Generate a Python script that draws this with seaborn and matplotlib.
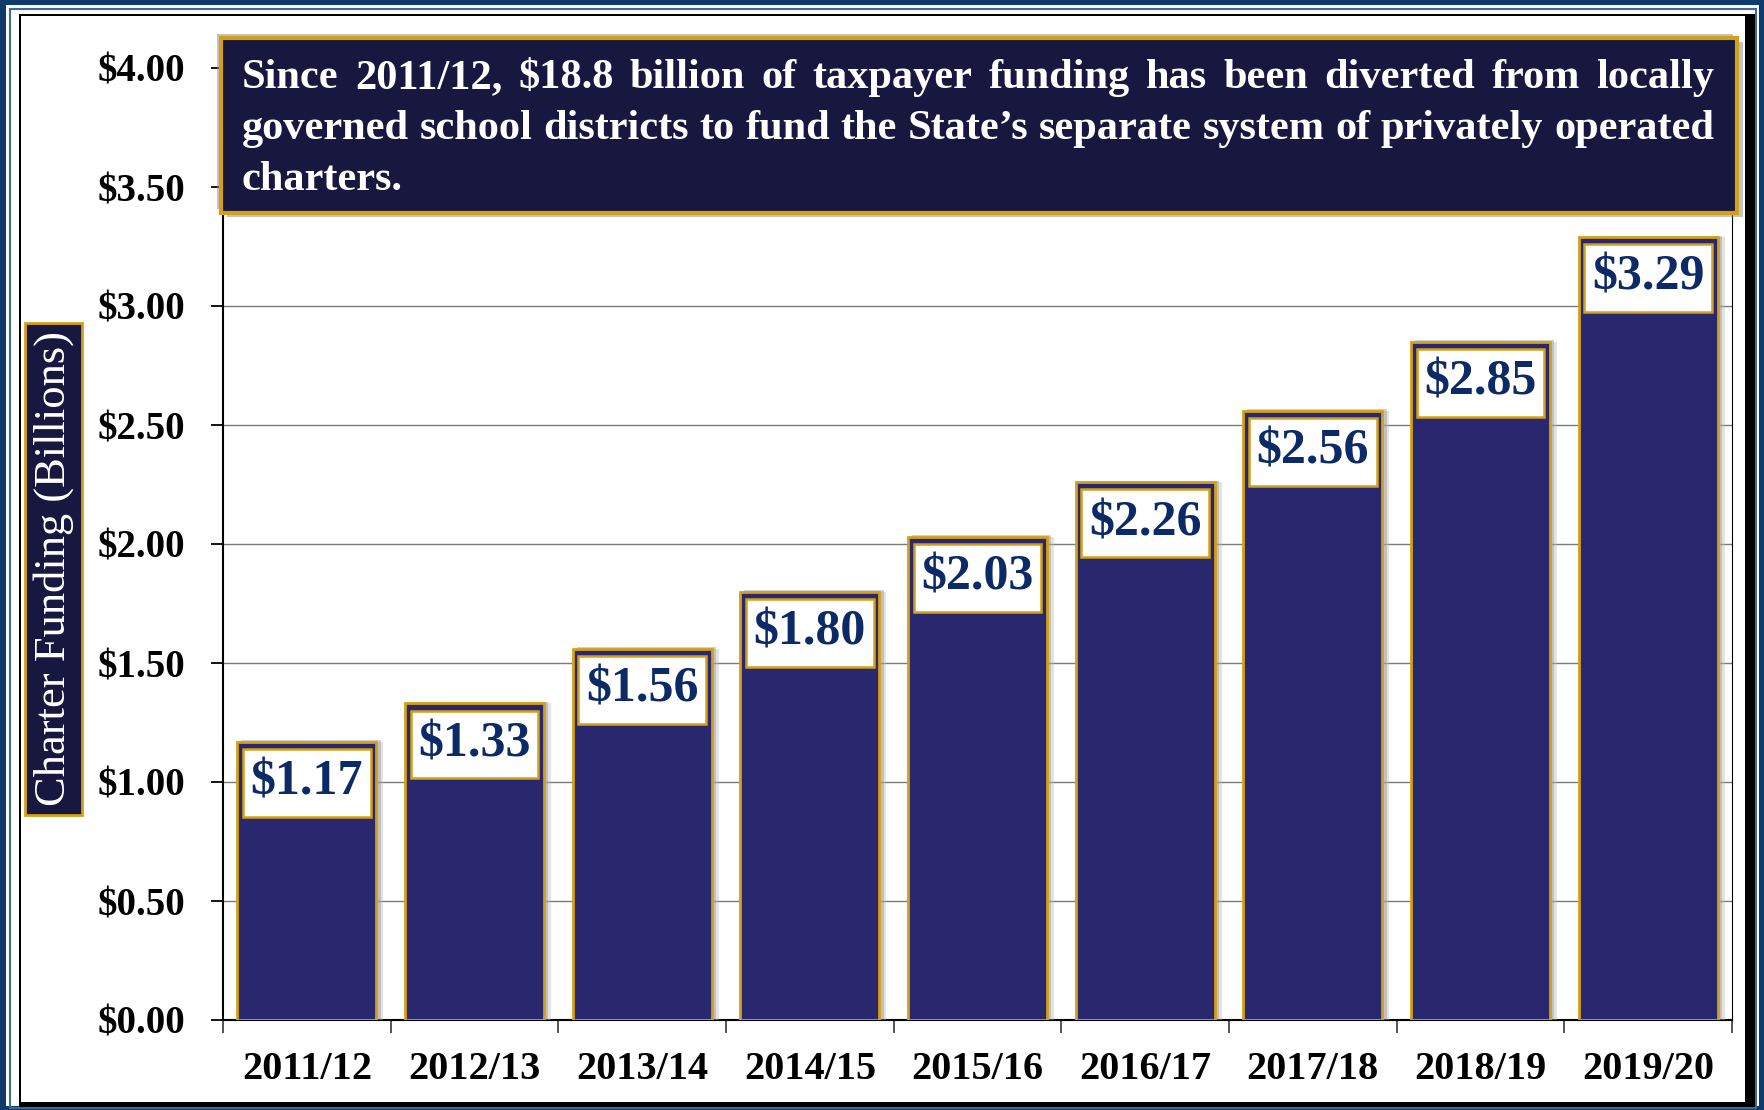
import matplotlib
matplotlib.use("Agg")
import matplotlib.pyplot as plt
import matplotlib.patheffects as pe
from matplotlib.patches import Rectangle
import seaborn as sns
import pandas as pd

# data
years = ["2011/12", "2012/13", "2013/14", "2014/15", "2015/16",
         "2016/17", "2017/18", "2018/19", "2019/20"]
funding = [1.17, 1.33, 1.56, 1.80, 2.03, 2.26, 2.56, 2.85, 3.29]
yticks = [0.0, 0.5, 1.0, 1.5, 2.0, 2.5, 3.0, 3.5, 4.0]
ytick_labels = ["$%.2f" % t for t in yticks]
note_lines = [
    "Since 2011/12, $18.8 billion of taxpayer funding has been diverted from locally",
    "governed school districts to fund the State\u2019s separate system of privately operated",
    "charters.",
]
ylabel = "Charter Funding (Billions)"

# colours
BAR = "#29286f"
GOLD = "#d4a017"
NAVY = "#18173f"
VALUE = "#0b2a66"
FRAME = "#0e3a6c"
FRAME_LINE = "#3d6a9c"

W, H = 1765, 1110
sns.set_style("white")
plt.rcParams["font.family"] = ["Liberation Serif", "DejaVu Serif"]

fig = plt.figure(figsize=(W / 100, H / 100), dpi=100)
fig.patch.set_facecolor("white")


def px_rect(x0, y0, x1, y1, **kw):
    # rectangle in figure pixels, y measured from the top
    r = Rectangle((x0 / W, 1 - y1 / H), (x1 - x0) / W, (y1 - y0) / H,
                  transform=fig.transFigure, figure=fig, **kw)
    fig.patches.append(r)
    return r


# outer frame
px_rect(0, 0, W, H, facecolor=FRAME, edgecolor="none", zorder=-20)
px_rect(6, 5, W - 6, H - 4, facecolor="white", edgecolor="none", zorder=-19)
px_rect(10, 9, W - 9, H - 2, facecolor="none", edgecolor=FRAME_LINE, lw=1.5, zorder=-18)
px_rect(19, 14, 1755, 1107, facecolor="black", edgecolor="none", zorder=-17)
px_rect(21, 16, 1745, 1102, facecolor="white", edgecolor="none", zorder=-16)

# axes
ax = fig.add_axes([223 / W, 1 - 1020 / H, (1732 - 223) / W, (1020 - 68) / H])
ax.patch.set_alpha(0)

df = pd.DataFrame({"year": years, "funding": funding})
sns.barplot(data=df, x="year", y="funding", color=BAR, saturation=1,
            edgecolor=GOLD, linewidth=2, width=0.83, ax=ax, zorder=3)
for bar in ax.patches:
    bar.set_path_effects([pe.SimplePatchShadow(offset=(5, 0), shadow_rgbFace="#bbbbbb", alpha=0.4),
                          pe.SimplePatchShadow(offset=(3, 1), shadow_rgbFace="#999999", alpha=0.45),
                          pe.Normal()])

ax.set_xlim(-0.5, len(years) - 0.5)
ax.set_ylim(0, 4.0)
ax.set_xlabel("")
ax.set_ylabel("")
ax.yaxis.grid(True, color="#7a7a7a", lw=1)
ax.xaxis.grid(False)
ax.set_axisbelow(True)

ax.set_yticks(yticks)
ax.set_yticklabels(ytick_labels, fontsize=28, fontweight="bold")
ax.set_xticks(range(len(years)))
ax.set_xticklabels(years, fontsize=29, fontweight="bold")
ax.set_xticks([i - 0.5 for i in range(len(years) + 1)], minor=True)
ax.tick_params(axis="y", direction="out", length=9, width=1.3, pad=18, colors="black", left=True)
ax.tick_params(axis="x", which="major", length=0, pad=22, colors="black")
ax.tick_params(axis="x", which="minor", direction="out", length=9, width=1.1, bottom=True)

for side in ["left", "bottom"]:
    ax.spines[side].set_color("black")
    ax.spines[side].set_linewidth(1.5)
ax.spines["right"].set_color("black")
ax.spines["right"].set_linewidth(0.8)
ax.spines["top"].set_visible(False)

# value boxes inside the bars
for i, v in enumerate(funding):
    box = Rectangle((i - 0.38, v - 0.315), 0.76, 0.285, facecolor="white",
                    edgecolor=GOLD, lw=1.8, zorder=4)
    ax.add_patch(box)
    ax.text(i, v - 0.172, "$%.2f" % v, ha="center", va="center", fontsize=36,
            fontweight="bold", color=VALUE, zorder=5)

# y axis label in a box
px_rect(25, 323, 82, 815, facecolor=NAVY, edgecolor=GOLD, lw=2, zorder=5)
renderer = fig.canvas.get_renderer()


def text_w(s, size, weight="normal"):
    t = fig.text(0, 0, s, fontsize=size, fontweight=weight)
    w = t.get_window_extent(renderer).width
    t.remove()
    return w


lab_size = 20 * 475 / text_w(ylabel, 20)
fig.text(53.5 / W, 1 - 569 / H, ylabel, rotation=90, ha="center", va="center",
         color="white", fontsize=lab_size, zorder=6)

# note box at the top with justified text
note_box = px_rect(221, 38, 1737, 213, facecolor=NAVY, edgecolor=GOLD, lw=3, zorder=5)
note_box.set_path_effects([pe.SimplePatchShadow(offset=(-3, 3), shadow_rgbFace="#888888", alpha=0.5),
                           pe.SimplePatchShadow(offset=(4, -3), shadow_rgbFace="#888888", alpha=0.5),
                           pe.Normal()])

x_left, x_right = 242, 1714
note_size = 20 * (x_right - x_left) / text_w(note_lines[1], 20, "bold")
baselines = [88, 139, 190]
for k, line in enumerate(note_lines):
    words = line.split(" ")
    widths = [text_w(w_, note_size, "bold") for w_ in words]
    if k < len(note_lines) - 1 and len(words) > 1:
        gap = (x_right - x_left - sum(widths)) / (len(words) - 1)
    else:
        gap = text_w("a b", note_size, "bold") - text_w("ab", note_size, "bold")
    x = x_left
    for w_, wd in zip(words, widths):
        fig.text(x / W, 1 - baselines[k] / H, w_, fontsize=note_size, fontweight="bold",
                 color="white", ha="left", va="baseline", zorder=7)
        x += wd + gap

fig.savefig("out.png", dpi=100)
